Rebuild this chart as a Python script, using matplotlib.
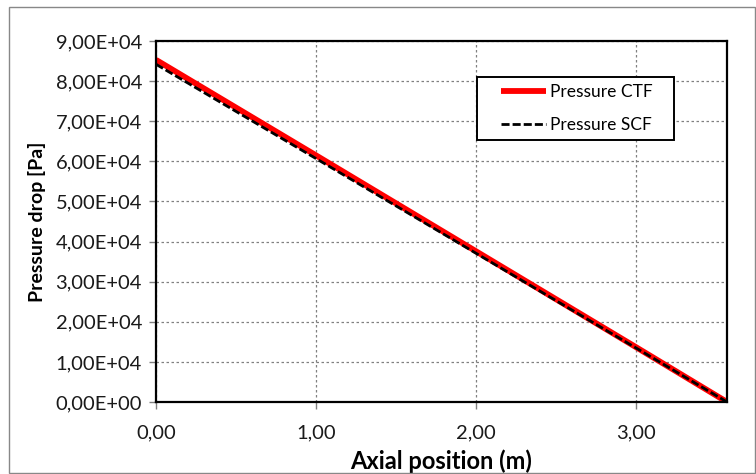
import numpy as np
import matplotlib.pyplot as plt
from matplotlib.ticker import FuncFormatter, MultipleLocator
from matplotlib.patches import Rectangle

# values
x_ctf = [0.0, 1.0, 2.0, 3.0, 3.57]
p_ctf = [85300, 61500, 37600, 13700, 0]
x_scf = [0.0, 1.0, 2.0, 3.0, 3.57]
p_scf = [84200, 60700, 37100, 13500, 0]

plt.rcParams['font.family'] = ['Lato', 'DejaVu Sans']

W, H = 756, 474
fig = plt.figure(figsize=(W/100, H/100), dpi=100)
ax = fig.add_axes([156/W, 1 - 402/H, (727 - 156)/W, (402 - 41)/H])

ax.plot(x_ctf, p_ctf, color='#ff0000', lw=4.2, label='Pressure CTF', solid_capstyle='butt')
ax.plot(x_scf, p_scf, color='black', lw=2.0, ls=(0, (2.9, 1.1)), label='Pressure SCF')

ax.set_xlim(0, 3.57)
ax.set_ylim(0, 90000)
ax.xaxis.set_major_locator(MultipleLocator(1))
ax.yaxis.set_major_locator(MultipleLocator(10000))
ax.xaxis.set_major_formatter(FuncFormatter(lambda v, p: f'{v:.2f}'.replace('.', ',')))


def sci_fmt(v, p):
    if v == 0:
        return '0,00E+00'
    e = int(np.floor(np.log10(abs(v))))
    m = v / 10**e
    return f'{m:.2f}'.replace('.', ',') + f'E+{e:02d}'


ax.yaxis.set_major_formatter(FuncFormatter(sci_fmt))

ax.grid(True, color='#808080', ls=(0, (2, 2)), lw=0.9)
for s in ax.spines.values():
    s.set_linewidth(1.6)
    s.set_color('black')
ax.tick_params(axis='both', direction='out', length=5, width=1, color='#808080',
               labelsize=14.5, labelcolor='#1a1a1a', pad=5)
ax.tick_params(axis='x', pad=11)

ax.set_xlabel('Axial position (m)', fontsize=17, fontweight='bold', labelpad=6)
ax.set_ylabel('Pressure drop [Pa]', fontsize=14, fontweight='bold', labelpad=7)

# legend: frame drawn separately so the padding matches the reference
frame = Rectangle((477/W, 1 - 140/H), (674 - 477)/W, (140 - 77)/H, transform=fig.transFigure,
                  facecolor='white', edgecolor='black', lw=1.4, zorder=4, clip_on=False)
ax.add_patch(frame)
leg = ax.legend(loc='center left', bbox_to_anchor=(501/W, 1 - 108.5/H),
                bbox_transform=fig.transFigure, fontsize=12.5, frameon=False,
                handlelength=2.6, handletextpad=0.25, borderpad=0, labelspacing=0.95,
                borderaxespad=0)
leg.set_zorder(5)

# outer chart border
fig.patches.append(Rectangle((9/W, 1/H), 746/W, 466/H, transform=fig.transFigure,
                             fill=False, edgecolor='#888888', lw=1.0))

fig.savefig('out.png', dpi=100)
